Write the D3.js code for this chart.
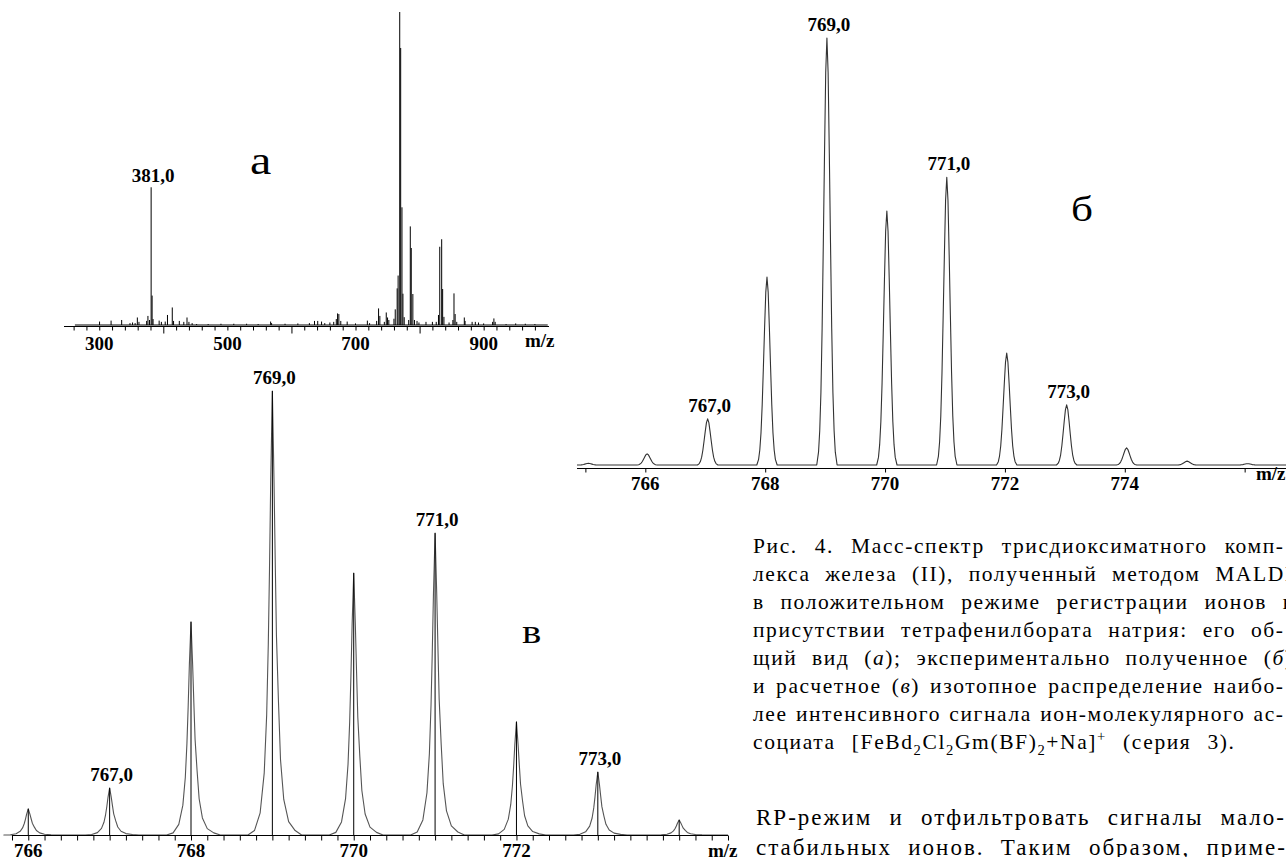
<!DOCTYPE html>
<html>
<head>
<meta charset="utf-8">
<script src="https://cdn.jsdelivr.net/npm/d3@7"></script>
<style>
  body { margin: 0; background: #fff; }
  svg { display: block; }
  text { font-family: "Liberation Serif", "Times New Roman", serif; fill: #000; }
</style>
</head>
<body>
<svg id="chart"></svg>
<script>
// Page size
const WIDTH = 1286;
const HEIGHT = 857;
const NUM_FONT = 19;

// Panel а: general view, peaks as [m/z, intensity in % of the 769 peak]
const peaksA = [
  [300.5, 1.1], [318.5, 1.4], [335, 1.6], [348, 0.6], [352, 0.8], [356, 0.6], [359.5, 2.4], [362, 1.0],
  [374, 1.3], [376, 2.9], [378.5, 1.6], [381, 44.0], [382.5, 9.4], [384, 1.9],
  [393.5, 1.4], [397, 1.0], [403, 1.1], [406.5, 3.2], [414, 5.6], [416, 1.3], [425, 1.3], [432, 1.0],
  [437, 2.4], [440, 1.0], [445, 0.6], [452, 0.3], [470, 0.3], [490, 0.4], [510, 0.4], [530, 0.4], [548, 0.3],
  [567.5, 1.1], [569, 0.6], [590, 0.4], [610, 0.5], [628, 0.6], [636, 1.3], [641, 1.3], [647, 1.1],
  [652, 0.6], [660, 0.8], [666, 1.0], [670, 1.9], [672, 3.7], [674, 3.5], [677, 1.3], [687, 1.1],
  [700, 0.5], [718.5, 1.4], [722, 0.6], [733, 1.3], [736, 5.3], [738, 2.9], [745, 1.0], [748, 4.0],
  [750, 2.4], [752, 1.6], [760, 2.0], [762, 5.0], [765, 11.7], [766.5, 15.8], [769, 100], [770.5, 88.5],
  [772.5, 37.6], [774, 10], [776, 2.5], [783, 1.6], [785.5, 31.5], [787, 24.6], [789.5, 9.9], [792, 1.6],
  [796, 1.3], [799, 0.8], [810, 1.0], [820, 1.0], [826, 1.0], [829.5, 3.2], [831.5, 25.0], [834.5, 27.4],
  [836, 11.5], [838, 2.6], [846, 0.8], [852, 1.6], [853.7, 10.1], [855.5, 3.5], [858, 1.0], [869.8, 2.4],
  [871, 1.3], [882, 1.0], [887, 1.0], [892, 0.8], [900, 0.5], [914, 1.0], [916, 2.1], [918, 1.0],
  [935, 0.3], [950, 0.5], [965, 0.4], [980, 0.3]
];
const tickLabelsA = [300, 500, 700, 900];
const longTicksA = [400, 600, 800];
const peakLabelsA = [381];

// Panel б: experimental isotope pattern, [m/z, % of the 769 peak]
const peaksB = [
  [765.05, 0.4], [766.03, 2.6], [767.04, 10.8], [768.03, 44.0], [769.03, 100], [770.03, 59.5],
  [771.03, 67.4], [772.03, 26.2], [773.03, 14.1], [774.03, 4.0], [775.04, 0.9], [776.05, 0.3]
];
const shapeB = [
  [-0.17, 0], [-0.14, 0.03], [-0.12, 0.08], [-0.10, 0.17], [-0.08, 0.32], [-0.06, 0.52], [-0.04, 0.73],
  [-0.02, 0.92], [0, 1], [0.02, 0.92], [0.04, 0.73], [0.06, 0.52], [0.08, 0.32], [0.10, 0.17],
  [0.12, 0.08], [0.14, 0.03], [0.17, 0]
];
const tickLabelsB = [766, 768, 770, 772, 774];
const peakLabelsB = [767, 769, 771, 773];

// Panel в: calculated isotope pattern, [m/z, % of the 769 peak]
const peaksC = [
  [766, 5.9], [767, 10.6], [768, 48.0], [769, 100], [770, 59.0], [771, 68.0], [772, 25.5], [773, 14.2], [774, 3.4]
];
const shapeC = [
  [-0.30, 0], [-0.22, 0.01], [-0.15, 0.05], [-0.10, 0.14], [-0.07, 0.27], [-0.05, 0.43], [-0.035, 0.6],
  [-0.02, 0.8], [0, 1], [0.02, 0.8], [0.035, 0.62], [0.05, 0.45], [0.075, 0.3], [0.10, 0.17],
  [0.14, 0.08], [0.20, 0.03], [0.28, 0.01], [0.36, 0]
];
const tickLabelsC = [766, 768, 770, 772];
const peakLabelsC = [767, 769, 771, 773];

// Caption and body text, as [text, style] pieces
const caption = [
  [["Рис. 4. Масс-спектр трисдиоксиматного комп-", ""]],
  [["лекса железа (II), полученный методом MALDI", ""]],
  [["в положительном режиме регистрации ионов в", ""]],
  [["присутствии тетрафенилбората натрия: его об-", ""]],
  [["щий вид (", ""], ["а", "i"], ["); экспериментально полученное (", ""], ["б", "i"], [")", ""]],
  [["и расчетное (", ""], ["в", "i"], [") изотопное распределение наибо-", ""]],
  [["лее интенсивного сигнала ион-молекулярного ас-", ""]],
  [["социата [FeBd", ""], ["2", "sub"], ["Cl", ""], ["2", "sub"], ["Gm(BF)", ""], ["2", "sub"],
   ["+Na]", ""], ["+", "sup"], [" (серия 3).", ""]]
];
const bodyText = [
  [["RP-режим и отфильтровать сигналы мало-", ""]],
  [["стабильных ионов. Таким образом, приме-", ""]]
];

const svg = d3.select("#chart").attr("width", WIDTH).attr("height", HEIGHT);

// Scales
const xA = d3.scaleLinear().domain([245, 1002]).range([64, 549]);
const yA = d3.scaleLinear().domain([0, 100]).range([325, 12]);
const xB = d3.scaleLinear().domain([764.86, 776.69]).range([577, 1286]);
const yB = d3.scaleLinear().domain([0, 100]).range([465, 38]);
const xC = d3.scaleLinear().domain([765.8, 774.6]).range([12, 728]);
const yC = d3.scaleLinear().domain([0, 100]).range([835, 391]);

const fmtPeak = d => d3.format(".1f")(d).replace(".", ",");
const peakAt = (peaks, v) => peaks.find(p => Math.round(p[0]) === v);

// axis line, tick marks and bold tick labels
function drawAxis(x, y, ticks, labels, labelY, mzX, mzY) {
    svg.append("line")
        .attr("x1", x.range()[0]).attr("x2", x.range()[1])
        .attr("y1", y).attr("y2", y)
        .attr("stroke", "#000").attr("stroke-width", 1);

    ticks.forEach(([values, len]) => {
        svg.append("g")
            .attr("transform", `translate(0,${y})`)
            .call(d3.axisBottom(x).tickValues(values).tickSize(len).tickSizeOuter(0).tickFormat(""))
            .call(g => g.select(".domain").remove())
            .selectAll("line").attr("stroke", "#000");
    });

    svg.append("g").selectAll("text").data(labels).join("text")
        .attr("x", d => x(d)).attr("y", labelY)
        .attr("text-anchor", "middle")
        .attr("font-size", NUM_FONT).attr("font-weight", "bold")
        .text(d => d);

    svg.append("text")
        .attr("x", mzX).attr("y", mzY)
        .attr("font-size", NUM_FONT).attr("font-weight", "bold")
        .text("m/z");
}

function drawPeakLabels(list, peaks, x, y, gap) {
    svg.append("g").selectAll("text").data(list).join("text")
        .attr("x", d => x(peakAt(peaks, d)[0]) + 2)
        .attr("y", d => y(peakAt(peaks, d)[1]) - gap)
        .attr("text-anchor", "middle")
        .attr("font-size", NUM_FONT).attr("font-weight", "bold")
        .text(fmtPeak);
}

// profile curve through every peak of a spectrum
function drawProfile(peaks, shape, x, y, color) {
    const pts = [[x.domain()[0], 0]]
        .concat(peaks.flatMap(([m, h]) => shape.map(([d, f]) => [m + d, h * f])))
        .concat([[x.domain()[1], 0]]);
    svg.append("path")
        .datum(pts)
        .attr("d", d3.line().x(d => x(d[0])).y(d => y(d[1])))
        .attr("fill", "none")
        .attr("stroke", color)
        .attr("stroke-width", 1.1)
        .attr("stroke-linejoin", "round");
}

function drawSticks(peaks, x, y, color) {
    svg.append("g").selectAll("line").data(peaks).join("line")
        .attr("x1", d => x(d[0])).attr("x2", d => x(d[0]))
        .attr("y1", y(0)).attr("y2", d => y(d[1]))
        .attr("stroke", color).attr("stroke-width", 1);
}

function panelLetter(letter, x, y, size) {
    svg.append("text")
        .attr("transform", `translate(${x},${y}) scale(1.2,1)`)
        .attr("font-size", size)
        .text(letter);
}

// ---- panel а
svg.append("line")
    .attr("x1", xA(262)).attr("x2", xA(1000))
    .attr("y1", yA(0)).attr("y2", yA(0))
    .attr("stroke", "#000").attr("stroke-width", 1);
drawSticks(peaksA, xA, yA, "#000");
drawAxis(xA, 326.5,
    [[d3.range(260, 1000, 20).filter(v => !longTicksA.includes(v)), 4], [longTicksA, 7]],
    tickLabelsA, 350, 525, 347);
drawPeakLabels(peakLabelsA, peaksA, xA, yA, 5);
panelLetter("а", 250, 174, 40);

// ---- panel б
drawProfile(peaksB, shapeB, xB, yB, "#333");
drawAxis(xB, 468.5, [[[765, 766, 768, 770, 772, 774, 776], 4]], tickLabelsB, 490, 1256, 480);
drawPeakLabels(peakLabelsB, peaksB, xB, yB, 7);
panelLetter("б", 1071, 221, 36);

// ---- panel в
drawProfile(peaksC, shapeC, xC, yC, "#555");
drawSticks(peaksC, xC, yC, "#000");
drawAxis(xC, 835.5, [[d3.range(765.8, 774.61, 0.2), 5]], tickLabelsC, 857, 708, 857);
drawPeakLabels(peakLabelsC, peaksC, xC, yC, 7);
panelLetter("в", 522, 643, 34);

// ---- text block
function writeLine(x, y, segs, size) {
    const t = svg.append("text").attr("x", x).attr("y", y).attr("font-size", size);
    let shift = 0;
    segs.forEach(([s, kind]) => {
        const sp = t.append("tspan").text(s);
        const want = kind === "sub" ? 6 : kind === "sup" ? -8 : 0;
        if (want !== shift) { sp.attr("dy", want - shift); shift = want; }
        if (kind === "sub" || kind === "sup") sp.attr("font-size", size * 0.68);
        if (kind === "i") sp.attr("font-style", "italic");
    });
    return t;
}

// stretch a line to the given width: letter spacing first, rest into the word gaps
function justify(t, width, ls) {
    const node = t.node();
    const n = node.getNumberOfChars();
    const spaces = node.textContent.split(" ").length - 1;
    t.style("letter-spacing", ls + "px").style("word-spacing", "0px");
    const w0 = node.getComputedTextLength() - ls;
    let ws = spaces ? (width - w0) / spaces : 0;
    if (ws < 0) {
        t.style("letter-spacing", (ls + (width - w0) / (n - 1)) + "px");
        return;
    }
    t.style("word-spacing", ws + "px");
    const w1 = node.getComputedTextLength() - ls;
    if (Math.abs(w1 - width) > 2) {
        t.style("word-spacing", "0px")
            .style("letter-spacing", (ls + (width - w0) / (n - 1)) + "px");
    }
}

const CAP_X = 753;
const capRight = [1283, 1292, 1293, 1283, 1292, 1283, 1283, 1234];
caption.forEach((segs, i) => {
    const t = writeLine(CAP_X, 553 + i * 28, segs, 21.5);
    justify(t, capRight[i] - CAP_X, 1.6);
});

const bodyRight = [1284, 1285];
bodyText.forEach((segs, i) => {
    const t = writeLine(756, 825 + i * 30, segs, 23);
    justify(t, bodyRight[i] - 756, 2.0);
});
</script>
</body>
</html>
